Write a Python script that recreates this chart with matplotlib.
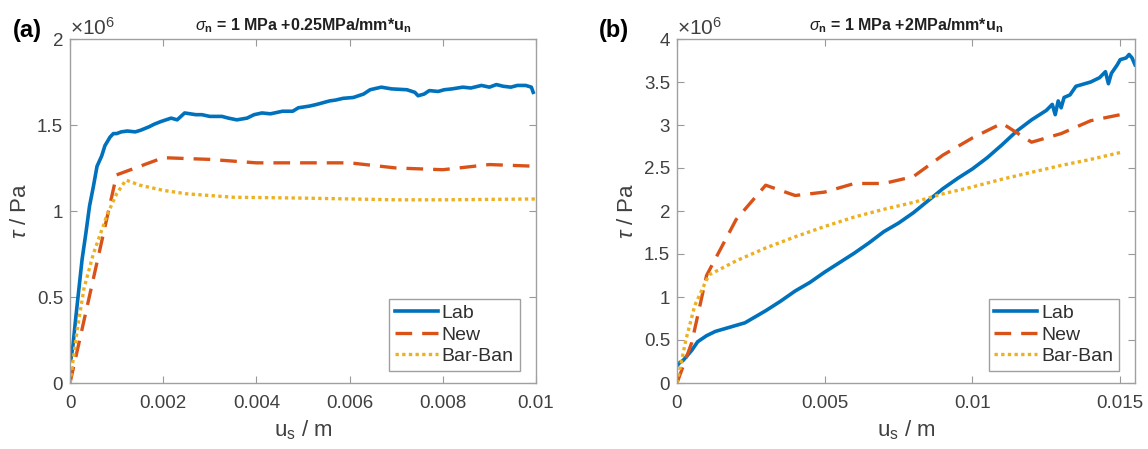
import matplotlib
matplotlib.use("Agg")
import matplotlib.pyplot as plt
import numpy as np
from matplotlib.ticker import FuncFormatter

plt.rcParams['font.family'] = ['Liberation Sans', 'DejaVu Sans']
plt.rcParams['mathtext.fontset'] = 'custom'
plt.rcParams['mathtext.rm'] = 'Liberation Sans'
plt.rcParams['mathtext.it'] = 'Liberation Sans:italic'
plt.rcParams['mathtext.bf'] = 'Liberation Sans:bold'

# ---- data (x in m, tau in MPa -> scaled by 1e6 when plotting) ----
# panel (a): sigma_n = 1 MPa + 0.25 MPa/mm * u_n
a_lab_x = [0, 0.00002, 0.00006, 0.00012, 0.00018, 0.00026, 0.00034, 0.00042, 0.0005,
           0.00058, 0.00068, 0.00075, 0.00086, 0.00093, 0.001, 0.0011, 0.00123, 0.0014,
           0.00152, 0.0017, 0.00181, 0.00195, 0.00217, 0.0023, 0.00246, 0.0027, 0.00283,
           0.003, 0.00326, 0.0034, 0.00358, 0.0038, 0.00395, 0.00412, 0.0043, 0.00456,
           0.00478, 0.0049, 0.00514, 0.0053, 0.00557, 0.0057, 0.00586, 0.00608, 0.0063,
           0.00644, 0.00668, 0.0069, 0.00723, 0.0074, 0.00747, 0.0076, 0.00771, 0.0079,
           0.00803, 0.0082, 0.00843, 0.0086, 0.00883, 0.009, 0.00915, 0.0093, 0.00946,
           0.0096, 0.00978, 0.0099, 0.00994]
a_lab_y = [0.13, 0.14, 0.21, 0.37, 0.52, 0.72, 0.87, 1.03, 1.14,
           1.26, 1.32, 1.38, 1.43, 1.45, 1.45, 1.46, 1.465, 1.46,
           1.47, 1.49, 1.505, 1.52, 1.54, 1.53, 1.57, 1.56, 1.56,
           1.55, 1.55, 1.54, 1.53, 1.54, 1.56, 1.57, 1.565, 1.58,
           1.58, 1.60, 1.61, 1.62, 1.64, 1.645, 1.655, 1.66, 1.68,
           1.705, 1.72, 1.71, 1.705, 1.69, 1.67, 1.68, 1.70, 1.695,
           1.705, 1.71, 1.72, 1.715, 1.73, 1.72, 1.735, 1.725, 1.72,
           1.73, 1.73, 1.72, 1.69]
a_new_x = [0, 0.001, 0.0012, 0.002, 0.003, 0.004, 0.005, 0.006, 0.007, 0.008, 0.009, 0.01]
a_new_y = [0, 1.21, 1.23, 1.31, 1.30, 1.28, 1.28, 1.28, 1.25, 1.24, 1.27, 1.26]
a_bb_x = [0, 0.00015, 0.0003, 0.0005, 0.0008, 0.001, 0.0012, 0.0015, 0.002, 0.0025,
          0.003, 0.0035, 0.005, 0.007, 0.008, 0.01]
a_bb_y = [0, 0.30, 0.55, 0.75, 0.98, 1.10, 1.18, 1.15, 1.12, 1.10,
          1.09, 1.08, 1.075, 1.065, 1.065, 1.07]

# panel (b): sigma_n = 1 MPa + 2 MPa/mm * u_n
b_lab_x = [0, 0.0001, 0.0002, 0.0003, 0.0005, 0.0007, 0.001, 0.0013, 0.0016, 0.002,
           0.0023, 0.0026, 0.003, 0.0035, 0.004, 0.0045, 0.005, 0.0055, 0.006, 0.0065,
           0.007, 0.0075, 0.008, 0.0085, 0.009, 0.0095, 0.01, 0.0105, 0.011, 0.0115,
           0.012, 0.0125, 0.0127, 0.0128, 0.0129, 0.013, 0.0131, 0.0133, 0.0135, 0.014,
           0.0143, 0.0145, 0.0146, 0.0147, 0.0149, 0.015, 0.0152, 0.0153, 0.0154, 0.0155]
b_lab_y = [0.20, 0.24, 0.26, 0.30, 0.38, 0.48, 0.55, 0.60, 0.63, 0.67,
           0.70, 0.76, 0.84, 0.95, 1.07, 1.17, 1.29, 1.40, 1.51, 1.63,
           1.76, 1.86, 1.98, 2.12, 2.26, 2.38, 2.49, 2.62, 2.77, 2.93,
           3.06, 3.17, 3.24, 3.12, 3.28, 3.20, 3.32, 3.35, 3.45, 3.50,
           3.55, 3.62, 3.48, 3.60, 3.70, 3.76, 3.78, 3.82, 3.78, 3.70]
b_new_x = [0, 0.0005, 0.001, 0.002, 0.003, 0.004, 0.005, 0.006, 0.007, 0.008,
           0.009, 0.01, 0.011, 0.012, 0.013, 0.014, 0.015]
b_new_y = [0, 0.47, 1.25, 1.90, 2.30, 2.18, 2.22, 2.32, 2.32, 2.40,
           2.65, 2.85, 3.02, 2.80, 2.90, 3.05, 3.12]
b_bb_x = [0, 0.0003, 0.0006, 0.001, 0.0011, 0.002, 0.003, 0.004, 0.005, 0.006,
          0.007, 0.008, 0.009, 0.01, 0.011, 0.012, 0.013, 0.014, 0.015]
b_bb_y = [0, 0.50, 0.90, 1.20, 1.26, 1.42, 1.57, 1.70, 1.82, 1.93,
          2.02, 2.10, 2.20, 2.28, 2.37, 2.45, 2.53, 2.60, 2.68]

a_xticks = [0, 0.002, 0.004, 0.006, 0.008, 0.01]
b_xticks = [0, 0.005, 0.01, 0.015]
a_yticks = [0, 0.5, 1, 1.5, 2]
b_yticks = [0, 0.5, 1, 1.5, 2, 2.5, 3, 3.5, 4]

titles = [r'$\sigma_\mathbf{n}$ = 1 MPa +0.25MPa/mm*u$_\mathbf{n}$',
          r'$\sigma_\mathbf{n}$ = 1 MPa +2MPa/mm*u$_\mathbf{n}$']
labels = ['Lab', 'New', 'Bar-Ban']
colors = ['#0072BD', '#D95319', '#EDB120']

fig = plt.figure(figsize=(11.48, 4.49), dpi=100)
ax_a = fig.add_axes([70 / 1148, 66 / 449, 466 / 1148, 344 / 449])
ax_b = fig.add_axes([677 / 1148, 66 / 449, 458 / 1148, 344 / 449])

panels = [
    (ax_a, a_lab_x, a_lab_y, a_new_x, a_new_y, a_bb_x, a_bb_y, a_xticks, a_yticks, 0.01, 2, '(a)'),
    (ax_b, b_lab_x, b_lab_y, b_new_x, b_new_y, b_bb_x, b_bb_y, b_xticks, b_yticks, 0.0155, 4, '(b)'),
]

for i, (ax, lx, ly, nx, ny, bx, by, xt, yt, xmax, ymax, tag) in enumerate(panels):
    ax.plot(lx, np.array(ly) * 1e6, color=colors[0], lw=2.6, label=labels[0])
    ax.plot(nx, np.array(ny) * 1e6, color=colors[1], lw=2.4, dashes=(5, 3), label=labels[1])
    ax.plot(bx, np.array(by) * 1e6, color=colors[2], lw=2.4, dashes=(1, 1), label=labels[2])

    ax.set_xlim(0, xmax)
    ax.set_ylim(0, ymax * 1e6)
    ax.set_xticks(xt)
    ax.set_yticks(np.array(yt) * 1e6)
    ax.xaxis.set_major_formatter(FuncFormatter(lambda v, p: f'{v:g}'))
    ax.yaxis.set_major_formatter(FuncFormatter(lambda v, p: f'{v / 1e6:g}'))
    ax.tick_params(axis='x', pad=9)
    ax.tick_params(axis='y', pad=5)
    ax.tick_params(direction='in', length=5, width=0.8, colors='#999999',
                   labelcolor='#404040', labelsize=13.5, top=True, right=True)
    for s in ax.spines.values():
        s.set_color('#a0a0a0')
        s.set_linewidth(1.0)

    ax.set_xlabel(r'u$_\mathregular{s}$ / m', fontsize=16, color='#404040', labelpad=4)
    ax.set_ylabel(r'$\tau$ / Pa', fontsize=16, color='#404040', labelpad=4)
    ax.set_title(titles[i], fontsize=11.5, fontweight='bold', pad=6, color='#202020')
    ax.text(0.0, (383 - 35) / 344, r'$\times$10$^6$', transform=ax.transAxes, fontsize=15,
            color='#404040', ha='left', va='baseline')
    ax.text(-0.122 if i == 0 else -0.17, (383 - 30) / 344, tag, transform=ax.transAxes,
            fontsize=17, fontweight='bold', ha='left', va='center', color='black')

    leg = ax.legend(loc='lower right', bbox_to_anchor=(0.965, 0.035), borderaxespad=0,
                    fontsize=14, handlelength=2.2, handletextpad=0.2, labelspacing=0.2,
                    borderpad=0.3, fancybox=False, framealpha=1, edgecolor='#a0a0a0')
    leg.get_frame().set_linewidth(1.0)
    for t in leg.get_texts():
        t.set_color('#303030')

fig.savefig('out.png', dpi=100)
